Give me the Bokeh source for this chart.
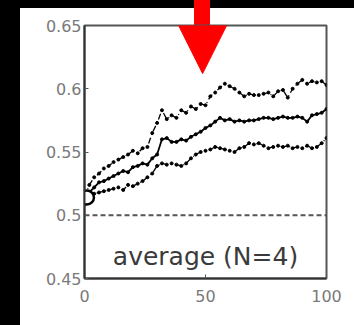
from bokeh.plotting import figure
from bokeh.models import (Arrow, NormalHead, Label, FixedTicker,
                          Range1d, ColumnDataSource)
from bokeh.embed import file_html
from bokeh.resources import INLINE

# ---- data ----
x_vals = [0, 2, 4, 6, 8, 10, 12, 14, 16, 18, 20,
          22, 24, 26, 28, 30, 32, 34, 36, 38, 40,
          42, 44, 46, 48, 50, 52, 54, 56, 58, 60,
          62, 64, 66, 68, 70, 72, 74, 76, 78, 80,
          82, 84, 86, 88, 90, 92, 94, 96, 98, 100]
mean_vals = [0.514, 0.518, 0.522, 0.526, 0.527, 0.529, 0.531, 0.533, 0.535, 0.534, 0.538,
             0.539, 0.541, 0.540, 0.545, 0.548, 0.560, 0.561, 0.558, 0.558, 0.560,
             0.559, 0.562, 0.564, 0.566, 0.569, 0.571, 0.574, 0.577, 0.575, 0.576,
             0.574, 0.575, 0.574, 0.575, 0.575, 0.576, 0.577, 0.577, 0.576, 0.577,
             0.578, 0.577, 0.577, 0.578, 0.577, 0.574, 0.579, 0.580, 0.581, 0.584]
upper_vals = [0.514, 0.524, 0.530, 0.533, 0.537, 0.539, 0.542, 0.544, 0.546, 0.548, 0.551,
              0.549, 0.553, 0.554, 0.565, 0.573, 0.583, 0.576, 0.579, 0.577, 0.583,
              0.581, 0.586, 0.584, 0.588, 0.587, 0.594, 0.597, 0.601, 0.604, 0.602,
              0.600, 0.597, 0.594, 0.596, 0.595, 0.595, 0.596, 0.597, 0.594, 0.598,
              0.599, 0.593, 0.600, 0.604, 0.607, 0.604, 0.606, 0.605, 0.606, 0.603]
lower_vals = [0.514, 0.516, 0.517, 0.518, 0.519, 0.520, 0.521, 0.522, 0.520, 0.524, 0.523,
              0.525, 0.527, 0.530, 0.533, 0.539, 0.541, 0.540, 0.541, 0.540, 0.539,
              0.541, 0.545, 0.548, 0.550, 0.551, 0.552, 0.554, 0.553, 0.552, 0.551,
              0.550, 0.553, 0.554, 0.557, 0.556, 0.557, 0.555, 0.553, 0.554, 0.555,
              0.554, 0.555, 0.553, 0.554, 0.553, 0.555, 0.553, 0.554, 0.557, 0.561]
start_x = [1]
start_y = [0.514]
chance_x = [0, 100]
chance_y = [0.5, 0.5]
x_ticks = [0, 50, 100]
x_tick_labels = ["0", "50", "100"]
y_ticks = [0.45, 0.5, 0.55, 0.6, 0.65]
y_tick_labels = ["0.45", "0.5", "0.55", "0.6", "0.65"]
label_text = "average (N=4)"
arrow_x = 48.8

p = figure(width=354, height=325, output_backend="svg", toolbar_location=None,
           x_range=Range1d(0, 100), y_range=Range1d(0.45, 0.65),
           min_border_left=84, min_border_right=28, min_border_top=25, min_border_bottom=47)
# transparent border: the page background (black frame, white panel, arrow stem) shows through
p.border_fill_alpha = 0
p.styles = {"background": "linear-gradient(#ff0000,#ff0000) 194px 0px / 16px 26px no-repeat, "
                          "linear-gradient(#ffffff,#ffffff) 20px 8px / 334px 317px no-repeat, "
                          "#000000"}
p.background_fill_color = "white"
p.outline_line_color = "#555555"
p.outline_line_width = 2
p.grid.visible = False

src = ColumnDataSource(dict(x=x_vals, m=mean_vals, u=upper_vals, l=lower_vals))

p.line(chance_x, chance_y, line_color="#555555", line_width=2, line_dash="5 3")

for col in ("u", "l"):
    p.line("x", col, source=src, line_color="black", line_width=1.3, line_dash="6 3 1 3")
    p.scatter("x", col, source=src, size=3, color="black")
p.line("x", "m", source=src, line_color="black", line_width=1.8)
p.scatter("x", "m", source=src, size=3, color="black")

p.scatter(start_x, start_y, size=14, fill_color="white", line_color="black", line_width=2.5)

for ax in (p.xaxis[0], p.yaxis[0]):
    ax.axis_line_color = "#333333"
    ax.axis_line_width = 2
    ax.major_tick_line_color = "#555555"
    ax.major_tick_in = 4
    ax.major_tick_out = 0
    ax.minor_tick_line_color = None
    ax.major_label_text_font = "DejaVu Sans"
    ax.major_label_text_font_size = "16px"
    ax.major_label_text_color = "#7a7a7a"

p.xaxis.ticker = FixedTicker(ticks=x_ticks)
p.xaxis.major_label_overrides = dict(zip(x_ticks, x_tick_labels))
p.xaxis.major_label_standoff = 11
p.yaxis.ticker = FixedTicker(ticks=y_ticks)
p.yaxis.major_label_overrides = dict(zip(y_ticks, y_tick_labels))
p.yaxis.major_label_standoff = 3

lab = Label(x=50, y=0.4675, text=label_text, text_align="center", text_baseline="middle",
            text_font="DejaVu Sans", text_font_size="25px", text_color="#3a3a3a")
p.add_layout(lab)

arrow = Arrow(x_start=arrow_x, y_start=0.68, x_end=arrow_x, y_end=0.612,
              line_color="red", line_width=16,
              end=NormalHead(size=48, fill_color="red", line_color="red"))
p.add_layout(arrow)

open("out.html", "w").write(file_html(p, INLINE))
